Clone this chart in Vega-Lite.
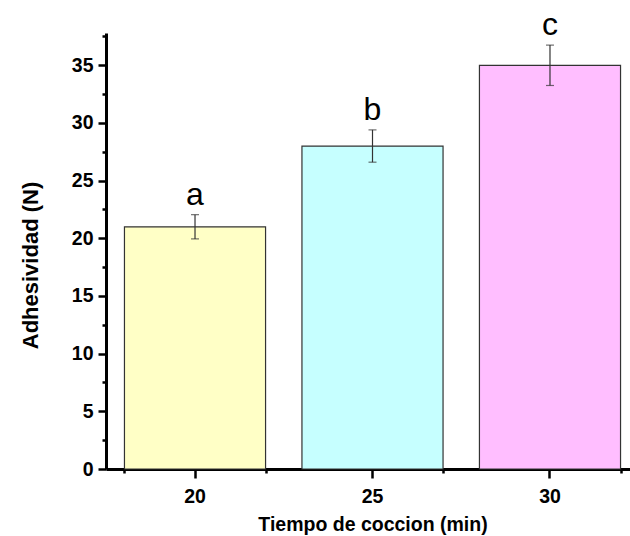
{
  "$schema": "https://vega.github.io/schema/vega-lite/v6.json",
  "width": 524,
  "height": 436,
  "autosize": {"type": "none"},
  "padding": {"left": 106, "top": 33, "right": 0, "bottom": 67},
  "background": "white",
  "config": {
    "view": {"stroke": null},
    "font": "Liberation Sans",
    "axis": {"domainColor": "black", "tickColor": "black", "labelColor": "black", "titleColor": "black", "grid": false}
  },
  "data": {
    "values": [
      {"t": "20", "value": 21, "lo": 19.95, "hi": 22.05, "letter": "a"},
      {"t": "25", "value": 28, "lo": 26.6, "hi": 29.4, "letter": "b"},
      {"t": "30", "value": 35, "lo": 33.25, "hi": 36.75, "letter": "c"}
    ]
  },
  "resolve": {"axis": {"x": "independent", "y": "independent"}},
  "layer": [
    {
      "mark": {"type": "bar", "stroke": "#333333", "strokeWidth": 1.2},
      "encoding": {
        "x": {
          "field": "t", "type": "nominal", "sort": null,
          "scale": {"range": [0, 533], "paddingInner": 0.205, "paddingOuter": 0.104},
          "axis": {
            "orient": "bottom", "title": "Tiempo de coccion (min)", "labelAngle": 0,
            "tickSize": 9, "tickWidth": 2.5, "domainWidth": 3,
            "labelFontSize": 19.5, "labelFontWeight": "bold", "labelPadding": 9,
            "titleFontSize": 19.5, "titleFontWeight": "bold", "titlePadding": 10
          }
        },
        "y": {
          "field": "value", "type": "quantitative",
          "scale": {"domain": [0, 37.8], "nice": false},
          "axis": {
            "orient": "left", "title": "Adhesividad (N)",
            "values": [0, 5, 10, 15, 20, 25, 30, 35],
            "tickSize": 8, "tickWidth": 2.5, "domainWidth": 3,
            "labelFontSize": 19.5, "labelFontWeight": "bold", "labelPadding": 5,
            "titleFontSize": 22, "titleFontWeight": "bold", "titlePadding": 29, "titleY": 232
          }
        },
        "fill": {
          "field": "t", "type": "nominal", "sort": null,
          "scale": {"range": ["#ffffc6", "#c6ffff", "#ffbeff"]},
          "legend": null
        }
      }
    },
    {
      "mark": {"type": "errorbar", "ticks": true, "size": 8, "thickness": 1.2, "color": "#333333"},
      "encoding": {
        "x": {"field": "t", "type": "nominal", "sort": null, "axis": null},
        "y": {"field": "lo", "type": "quantitative", "axis": null},
        "y2": {"field": "hi"}
      }
    },
    {
      "mark": {"type": "text", "fontSize": 32, "baseline": "alphabetic", "dy": -10, "color": "black"},
      "encoding": {
        "x": {
          "field": "t", "type": "nominal", "sort": null,
          "axis": {"orient": "bottom", "tickBand": "extent", "labels": false, "domain": false, "tickSize": 4, "tickWidth": 2.5, "title": null}
        },
        "y": {
          "field": "hi", "type": "quantitative",
          "axis": {"orient": "left", "values": [2.5, 7.5, 12.5, 17.5, 22.5, 27.5, 32.5, 37.5], "labels": false, "domain": false, "tickSize": 4, "tickWidth": 2.5, "title": null}
        },
        "text": {"field": "letter"}
      }
    }
  ]
}
